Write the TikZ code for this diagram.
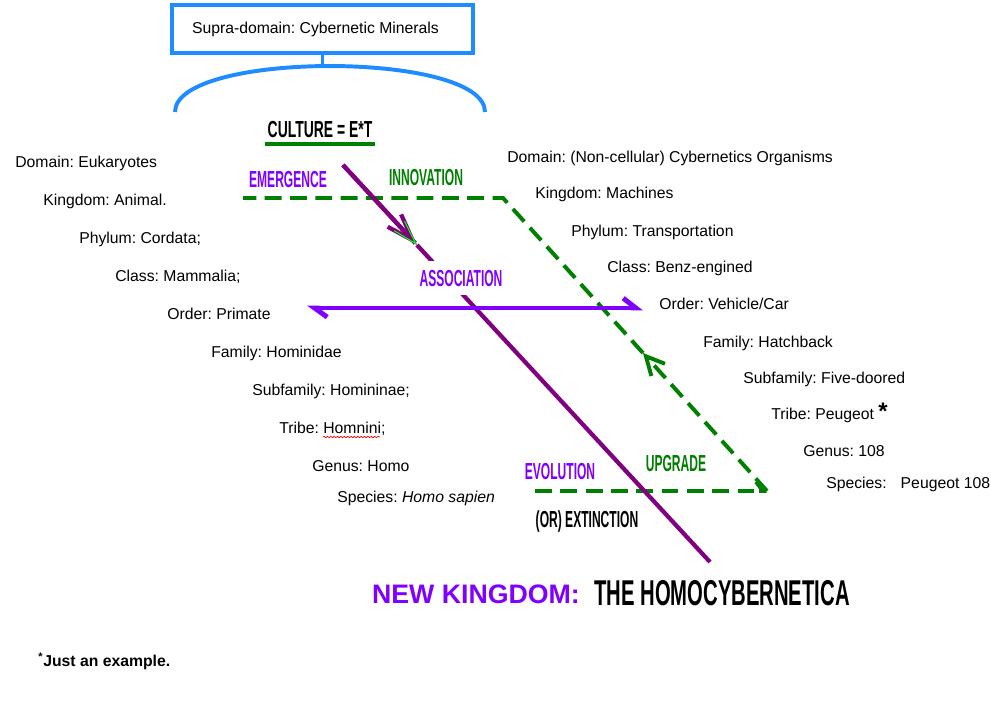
\documentclass[tikz,border=0pt]{standalone}
\usepackage{fontspec}
\setmainfont{Liberation Sans}
\newfontfamily\headfont[FakeStretch=0.52]{Liberation Sans Bold}
\usetikzlibrary{arrows.meta,decorations.pathmorphing}
\definecolor{sky}{HTML}{1E8CFF}
\definecolor{leaf}{HTML}{008000}
\definecolor{iris}{HTML}{8000FF}
\definecolor{plum}{HTML}{800080}
\definecolor{neon}{HTML}{00FF00}
\definecolor{squig}{HTML}{FF0000}
\frenchspacing
\tikzset{
  taxon/.style={anchor=base west,inner sep=0,font=\fontsize{11.2}{13}\selectfont},
  head/.style={anchor=base,inner sep=0,font=\headfont\fontsize{16.5}{17}\selectfont},
  gdash/.style={leaf,line width=2.8pt,dash pattern=on 12pt off 6pt}
}
\begin{document}
\begin{tikzpicture}[x=.025cm,y=-.025cm]
\useasboundingbox (0,0) rectangle (991,706);
% supra-domain box and its brace
\node[draw=sky,line width=2.8pt,minimum width=214pt,minimum height=34pt,inner sep=0,font=\fontsize{11.2}{13}\selectfont] (supra) at (322.5,29) {\kern-10pt Supra-domain: Cybernetic Minerals};
\coordinate (arctop) at (322.5,66);
\coordinate (arcL) at (175,112);
\coordinate (arcR) at (485,112);
\draw[sky,line width=2.8pt] (supra.south) -- (arctop);
\draw[sky,line width=2.8pt] (arcL) .. controls (175,50.7) and (485,50.7) .. (arcR);
\node[head,inner xsep=2pt,inner ysep=4.3pt,font=\headfont\fontsize{16.5}{17}\selectfont\addfontfeature{FakeStretch=0.6}] (culture) at (320,137) {CULTURE = E*T};
\draw[leaf,line width=2.8pt] (culture.south west) -- (culture.south east);
% the two lineages
\foreach \n/\x/\y/\txt in {1/15/167/{Domain: Eukaryotes},2/43/205/{Kingdom: Animal.},
  3/79/243/{Phylum: Cordata;},4/115/281/{Class: Mammalia;},5/167/319/{Order: Primate},
  6/211/357/{Family: Hominidae},7/252/395/{Subfamily: Homininae;},8/279/433/{Tribe: Homnini;},
  9/312/471/{Genus: Homo},10/337/502/{Species: \textit{Homo sapien}}}
  {\node[taxon] (bio\n) at (\x,\y) {\txt};}
\foreach \n/\x/\y/\txt in {1/507/162/{Domain: (Non-cellular) Cybernetics Organisms},2/535/198/{Kingdom: Machines},
  3/571/236/{Phylum: Transportation},4/607/272/{Class: Benz-engined},5/659/309/{Order: Vehicle/Car},
  6/703/347/{Family: Hatchback},7/743/383/{Subfamily: Five-doored},
  8/771/419/{Tribe: Peugeot {\fontsize{17}{17}\selectfont\bfseries *}},
  9/803/456/{Genus: 108},10/826/488/{Species:\hspace{10pt}Peugeot 108}}
  {\node[taxon] (mech\n) at (\x,\y) {\txt};}
\draw[squig,line width=.5pt,decorate,decoration={snake,amplitude=.5pt,segment length=2.4pt}] (323,437) -- (380,437);
% innovation loop
\coordinate (gA) at (243,198);
\coordinate (gB) at (503,198);
\coordinate (gM) at (643,353);
\coordinate (gC) at (767,491);
\coordinate (gD) at (535,491);
\draw[gdash,-{Straight Barb[left,length=5pt,width=13pt]}] (gD) -- (gC);
\draw[gdash,-{Straight Barb[length=13pt,width=13pt]}] (gC) -- (gM);
\draw[gdash] (gM) -- (gB) -- (gA);
% emergence line
\coordinate (dtop) at (343,165);
\coordinate (dmid) at (417,245);
\coordinate (dbot) at (710,562);
\draw[plum,line width=3pt,-{Straight Barb[length=19pt,width=13pt]}] (dtop) -- (dmid);
\draw[plum,line width=3pt,-{Straight Barb[length=17pt,width=10pt,color=neon,line width=.8pt]}] (dtop) -- (dmid);
\draw[plum,line width=3pt] (dmid) -- (dbot);
\coordinate (hL) at (307,308);
\coordinate (hR) at (643,308);
\draw[iris,line width=3.5pt,{Straight Barb[left,length=9pt,width=13pt]}-{Straight Barb[left,length=9pt,width=14pt]}] (hL) -- (hR);
\node[head,iris,fill=white,inner xsep=2pt,inner ysep=6pt] (assoc) at (461,286) {ASSOCIATION};
\node[head,iris] (emerge) at (288,187) {EMERGENCE};
\node[head,leaf] (innov) at (426,185) {INNOVATION};
\node[head,iris] (evol) at (560,479) {EVOLUTION};
\node[head,leaf] (upgrade) at (676,471) {UPGRADE};
\node[head] (extinct) at (587,527) {(OR) EXTINCTION};
\node[anchor=base,inner sep=0,iris,font=\bfseries\fontsize{19}{20}\selectfont] (newking) at (476,603) {NEW KINGDOM:};
\node[anchor=base,inner sep=0,font=\headfont\fontsize{25.5}{26}\selectfont\addfontfeature{FakeStretch=0.565}] (homocyb) at (722,605) {THE HOMOCYBERNETICA};
\node[taxon,font=\bfseries\fontsize{11.2}{13}\selectfont] (note) at (38,666) {\textsuperscript{*}Just an example.};
\end{tikzpicture}
\end{document}
